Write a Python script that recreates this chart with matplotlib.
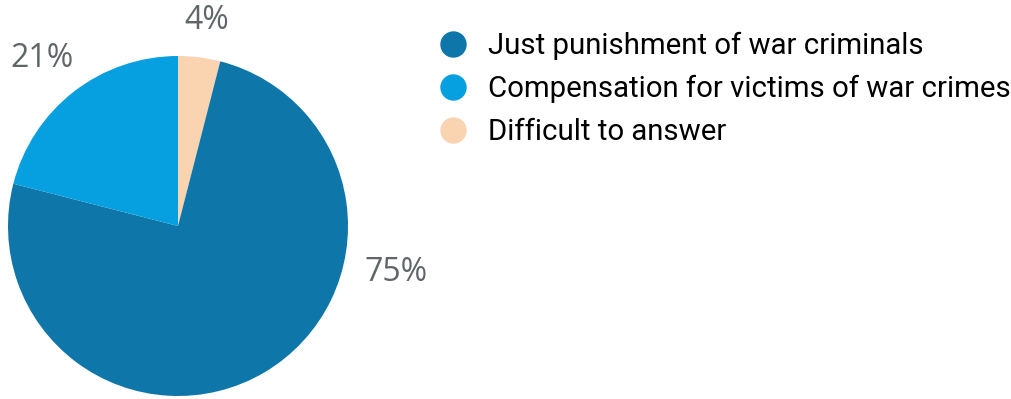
import matplotlib.pyplot as plt
from matplotlib.lines import Line2D
import numpy as np

categories = ["Difficult to answer", "Just punishment of war criminals",
              "Compensation for victims of war crimes"]
shares = [4, 75, 21]
colours = ["#fad3b0", "#0e76a8", "#069fe0"]

legend_order = [1, 2, 0]

# label placement: (angle in degrees, distance in radii) per slice
label_pos = [(82, 1.22), (-12, 1.31), (129, 1.27)]

W, H = 1012, 399
fig = plt.figure(figsize=(W / 100, H / 100), dpi=100)
ax = fig.add_axes([8 / W, 3 / H, 340 / W, 340 / H])

wedges, _ = ax.pie(shares, colors=colours, startangle=90, counterclock=False,
                   radius=1, wedgeprops=dict(linewidth=0))
ax.set_xlim(-1, 1)
ax.set_ylim(-1, 1)
ax.set_aspect("equal")
ax.axis("off")

for val, (ang, dist) in zip(shares, label_pos):
    a = np.deg2rad(ang)
    ax.text(dist * np.cos(a), dist * np.sin(a), f"{val}%", ha="center", va="center",
            fontsize=23, color="#5f6669", family="Open Sans", clip_on=False)

handles = [Line2D([], [], linestyle="none", marker="o", markersize=19,
                  markerfacecolor=colours[i], markeredgewidth=0) for i in legend_order]
labels = [categories[i] for i in legend_order]
fig.legend(handles, labels, loc="upper left", bbox_to_anchor=(438 / W, 1 - 32 / H),
           frameon=False, handlelength=1.0, handletextpad=0.7,
           labelspacing=0.5, borderaxespad=0, borderpad=0,
           prop=dict(family="Roboto", size=21.2))

fig.savefig("out.png", dpi=100)
